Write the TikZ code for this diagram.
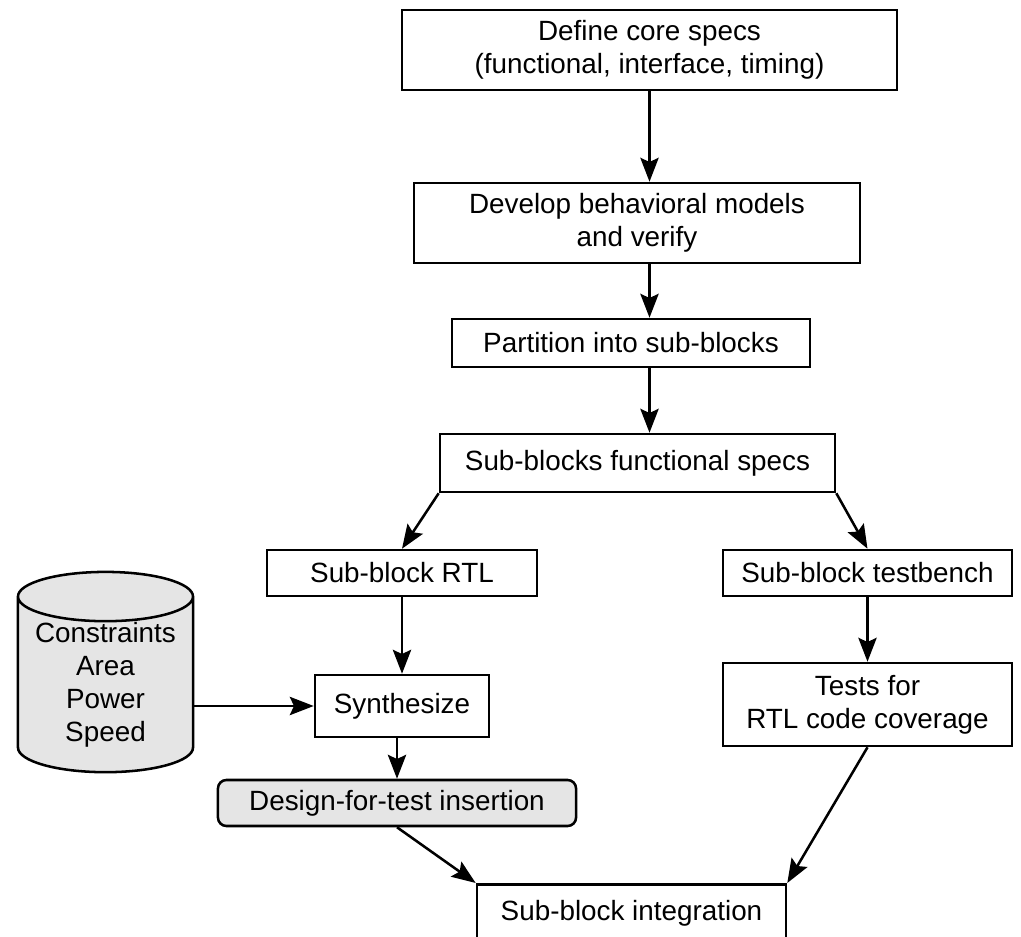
\documentclass[tikz,border=0pt]{standalone}
\usepackage{fontspec}
\setmainfont{Liberation Sans}
\usetikzlibrary{arrows.meta,shapes.geometric}
\definecolor{grisclair}{gray}{0.9}

\begin{document}
\begin{tikzpicture}[x=0.025cm,y=-0.025cm]
\tikzstyle{lien}=[-{Stealth[length=17pt,width=13pt,inset=3pt]},line width=1.8pt]
\tikzset{etape/.style={draw,line width=1.8pt,fill=#1,align=center,inner sep=0pt,
font=\fontsize{19.8}{23.5}\selectfont},
etape/.default={white}}
\useasboundingbox (0,0) rectangle (1021,937);

\node[etape,minimum width=12.375cm,minimum height=2cm] (A) at (649.5,50) {Define core specs\\(functional, interface, timing)};
\node[etape,minimum width=11.15cm,minimum height=2cm] (B) at (637,223) {Develop behavioral models\\and verify};
\node[etape,minimum width=8.95cm,minimum height=1.2cm] (C) at (631,343) {Partition into sub-blocks};
\node[etape,minimum width=9.875cm,minimum height=1.45cm] (D) at (637.5,463) {Sub-blocks functional specs};
\node[etape,minimum width=6.75cm,minimum height=1.15cm] (D1) at (402,573) {Sub-block RTL};
\node[etape,minimum width=7.225cm,minimum height=1.15cm] (D2) at (867.5,573) {Sub-block testbench};
\node[etape,minimum width=4.35cm,minimum height=1.55cm] (E1) at (402,706) {Synthesize};
\node[etape,minimum width=7.225cm,minimum height=2.075cm] (E2) at (867.5,704.5) {Tests for\\RTL code coverage};
\node[etape=grisclair,rounded corners=6pt,minimum width=8.95cm,minimum height=1.15cm] (F) at (397,803) {Design-for-test insertion};
\node[etape,anchor=north,minimum width=7.725cm,text height=0.9cm,text depth=1cm] (G) at (631.5,883) {Sub-block integration};
\node[etape=grisclair,cylinder,shape border rotate=90,aspect=0.35,minimum width=4.375cm,minimum height=4.0cm] (K) at (105.5,685) {Constraints\\Area\\Power\\Speed};

\draw[lien] (A) -- (A |- B.north);
\draw[lien] (A |- B.south) -- (A |- C.north);
\draw[lien] (A |- C.south) -- (A |- D.north);
\draw[lien] (D.south west) -- (D1.north);
\draw[lien] (D.south east) -- (D2.north);
\draw[lien] (D1) -- (E1);
\draw[lien] (D2) -- (E2);
\draw[lien] (K.east |- E1) -- (E1.west);
\draw[lien] (F.north |- E1.south) -- (F.north);
\draw[lien] (F.south) -- (G.north west);
\draw[lien] (E2.south) -- (G.north east);

\end{tikzpicture}
\end{document}
